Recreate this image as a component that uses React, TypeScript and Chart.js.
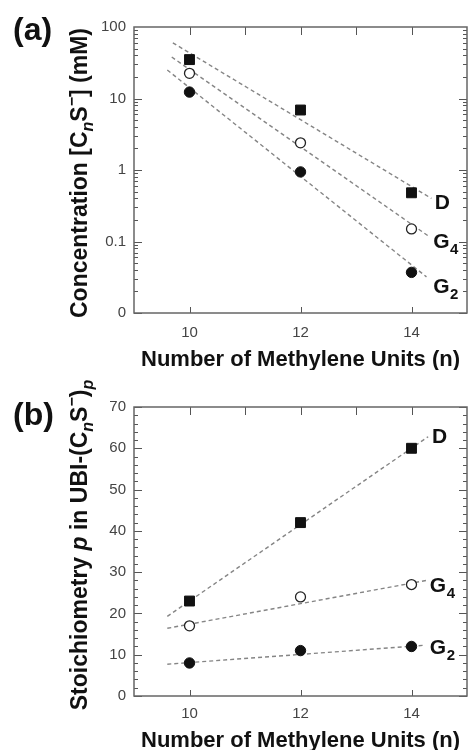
import React, { useEffect, useRef } from 'react';
import { Chart, registerables } from 'chart.js';
Chart.register(...registerables);

const FONT = '"Liberation Sans", Arial, Helvetica, sans-serif';

// ---------- data ----------
const nUnits = [10, 12, 14];
const xTickValues = [10, 12, 14];

// Panel (a): concentration [CnS-] (mM), log scale
const concD = [35, 6.9, 0.48];
const concG4 = [22.5, 2.4, 0.15];
const concG2 = [12.3, 0.94, 0.037];
// dashed fit lines (a): [start, end]
const fitA_D_x = [9.7, 14.36];
const fitA_D_y = [60, 0.4];
const fitA_G4_x = [9.68, 14.3];
const fitA_G4_y = [38, 0.12];
const fitA_G2_x = [9.6, 14.27];
const fitA_G2_y = [25, 0.032];
const logTicksA = [0.01, 0.1, 1, 10, 100];
const logTickLabelsA = ['0', '0.1', '1', '10', '100'];
// series labels (a)
const labelA_text = [['D', ''], ['G', '4'], ['G', '2']];
const labelA_x = [14.42, 14.39, 14.39];
const labelA_y = [0.363, 0.102, 0.024];

// Panel (b): stoichiometry p
const stoD = [23, 42, 60];
const stoG4 = [17, 24, 27];
const stoG2 = [8, 11, 12];
const fitB_D_x = [9.6, 14.3];
const fitB_D_y = [19.3, 62.8];
const fitB_G4_x = [9.6, 14.27];
const fitB_G4_y = [16.4, 28];
const fitB_G2_x = [9.6, 14.25];
const fitB_G2_y = [7.7, 12.3];
const linTicksB = [0, 10, 20, 30, 40, 50, 60, 70];
const labelB_text = [['D', ''], ['G', '4'], ['G', '2']];
const labelB_x = [14.37, 14.33, 14.33];
const labelB_y = [63, 27, 11.9];

type Seg = { t: string; it?: boolean; sub?: boolean; sup?: boolean };
const titleA: Seg[] = [
  { t: 'Concentration [C' }, { t: 'n', it: true, sub: true }, { t: 'S' }, { t: '\u2212', sup: true }, { t: '] (mM)' },
];
const titleB: Seg[] = [
  { t: 'Stoichiometry ' }, { t: 'p', it: true }, { t: ' in UBI-(C' }, { t: 'n', it: true, sub: true },
  { t: 'S' }, { t: '\u2212', sup: true }, { t: ')' }, { t: 'p', it: true, sub: true },
];
const xTitle = 'Number of Methylene Units (n)';

function drawRich(ctx: CanvasRenderingContext2D, segs: Seg[], x: number, y: number, size: number, rotate: boolean) {
  ctx.save();
  ctx.translate(x, y);
  if (rotate) ctx.rotate(-Math.PI / 2);
  const fontFor = (s: Seg) => `${s.it ? 'italic ' : ''}bold ${s.sub || s.sup ? Math.round(size * 0.68) : size}px ${FONT}`;
  let total = 0;
  const widths = segs.map((s) => {
    ctx.font = fontFor(s);
    const w = ctx.measureText(s.t).width;
    total += w;
    return w;
  });
  let cx = -total / 2;
  ctx.textAlign = 'left';
  ctx.textBaseline = 'alphabetic';
  ctx.fillStyle = '#111';
  segs.forEach((s, i) => {
    ctx.font = fontFor(s);
    const dy = s.sub ? size * 0.28 : s.sup ? -size * 0.42 : 0;
    ctx.fillText(s.t, cx, dy);
    cx += widths[i];
  });
  ctx.restore();
}

type PanelCfg = {
  letter: string;
  letterBaseline: number;
  title: Seg[];
  titleCenterY: number;
  xTitleBaseline: number;
  yTickVals: number[];
  isMajor: (v: number) => boolean;
  labels: string[][];
  labelX: number[];
  labelY: number[];
};

function makeOverlay(cfg: PanelCfg) {
  return {
    id: 'overlay',
    afterDraw(chart: any) {
      const { ctx, chartArea: a, scales } = chart;
      const xs = scales.x;
      const ys = scales.y;
      ctx.save();
      // inward ticks
      ctx.strokeStyle = '#555';
      ctx.lineWidth = 1;
      ctx.beginPath();
      cfg.yTickVals.forEach((v) => {
        const len = cfg.isMajor(v) ? 8 : 4;
        const py = Math.round(ys.getPixelForValue(v)) + 0.5;
        ctx.moveTo(a.left, py);
        ctx.lineTo(a.left + len, py);
        ctx.moveTo(a.right, py);
        ctx.lineTo(a.right - len, py);
      });
      for (let v = 10; v <= 14; v++) {
        const px = Math.round(xs.getPixelForValue(v)) + 0.5;
        ctx.moveTo(px, a.top);
        ctx.lineTo(px, a.top + 8);
      }
      xTickValues.forEach((v) => {
        const px = Math.round(xs.getPixelForValue(v)) + 0.5;
        ctx.moveTo(px, a.bottom);
        ctx.lineTo(px, a.bottom - 6);
      });
      ctx.stroke();
      // frame
      ctx.strokeStyle = '#666';
      ctx.lineWidth = 1.5;
      ctx.strokeRect(a.left, a.top, a.right - a.left, a.bottom - a.top);

      // panel letter
      ctx.fillStyle = '#111';
      ctx.font = `bold 32px ${FONT}`;
      ctx.textAlign = 'left';
      ctx.textBaseline = 'alphabetic';
      ctx.fillText(cfg.letter, 13, cfg.letterBaseline);

      // y title
      drawRich(ctx, cfg.title, 87, cfg.titleCenterY, 23, true);
      // x title
      ctx.font = `bold 22px ${FONT}`;
      ctx.textAlign = 'center';
      ctx.fillStyle = '#111';
      ctx.fillText(xTitle, (a.left + a.right) / 2, cfg.xTitleBaseline);

      // series labels
      cfg.labels.forEach((lab, i) => {
        const px = xs.getPixelForValue(cfg.labelX[i]);
        const py = ys.getPixelForValue(cfg.labelY[i]) + 7.5;
        ctx.textAlign = 'left';
        ctx.font = `bold 21px ${FONT}`;
        ctx.fillText(lab[0], px, py);
        const w = ctx.measureText(lab[0]).width;
        if (lab[1]) {
          ctx.font = `bold 15px ${FONT}`;
          ctx.fillText(lab[1], px + w + 0.5, py + 6);
        }
      });
      ctx.restore();
    },
  };
}

const tickFont = { family: FONT, size: 15 };

function pointSets(ys: number[][]) {
  const styles = [
    { pointStyle: 'rect', pointRadius: 7, backgroundColor: '#111', borderColor: '#111', borderWidth: 1 },
    { pointStyle: 'circle', pointRadius: 5, backgroundColor: '#fff', borderColor: '#222', borderWidth: 1.3 },
    { pointStyle: 'circle', pointRadius: 5.2, backgroundColor: '#111', borderColor: '#111', borderWidth: 1 },
  ];
  return ys.map((vals, k) => ({
    data: nUnits.map((x, i) => ({ x, y: vals[i] })),
    showLine: false,
    order: 0,
    ...styles[k],
  }));
}

function lineSets(lines: number[][][]) {
  return lines.map(([lx, ly]) => ({
    data: lx.map((x, i) => ({ x, y: ly[i] })),
    showLine: true,
    borderColor: '#858585',
    borderWidth: 1.4,
    borderDash: [4, 3],
    pointRadius: 0,
    order: 1,
  }));
}

function xScale(pad: number, height: number) {
  return {
    type: 'linear',
    min: 9,
    max: 15,
    grid: { display: false, drawTicks: false },
    border: { display: false },
    afterBuildTicks: (s: any) => {
      s.ticks = xTickValues.map((v) => ({ value: v }));
    },
    ticks: { font: tickFont, color: '#444', padding: pad, maxRotation: 0, autoSkip: false },
    afterFit: (s: any) => {
      s.height = height;
    },
  };
}

function makeCfgA(): any {
  const yMinor: number[] = [];
  for (let d = 0; d < logTicksA.length - 1; d++) {
    for (let k = 1; k <= 9; k++) yMinor.push(k * logTicksA[d]);
  }
  return {
    type: 'scatter',
    data: {
      datasets: [
        ...pointSets([concD, concG4, concG2]),
        ...lineSets([
          [fitA_D_x, fitA_D_y],
          [fitA_G4_x, fitA_G4_y],
          [fitA_G2_x, fitA_G2_y],
        ]),
      ],
    },
    options: {
      responsive: false,
      animation: false,
      plugins: { legend: { display: false }, tooltip: { enabled: false } },
      layout: { autoPadding: false, padding: { top: 27, right: 2, left: 0, bottom: 0 } },
      scales: {
        x: xScale(11, 57),
        y: {
          type: 'logarithmic',
          min: 0.01,
          max: 100,
          grid: { display: false, drawTicks: false },
          border: { display: false },
          afterBuildTicks: (s: any) => {
            s.ticks = logTicksA.map((v) => ({ value: v }));
          },
          ticks: {
            font: tickFont,
            color: '#444',
            padding: 8,
            callback: (v: number) => {
              const i = logTicksA.findIndex((t) => Math.abs(t - v) / t < 1e-6);
              return i >= 0 ? logTickLabelsA[i] : '';
            },
          },
          afterFit: (s: any) => {
            s.width = 134;
          },
        },
      },
    },
    plugins: [
      makeOverlay({
        letter: '(a)',
        letterBaseline: 40,
        title: titleA,
        titleCenterY: 173,
        xTitleBaseline: 366,
        yTickVals: yMinor,
        isMajor: (v) => Math.abs(Math.log10(v) - Math.round(Math.log10(v))) < 1e-6,
        labels: labelA_text,
        labelX: labelA_x,
        labelY: labelA_y,
      }),
    ],
  };
}

function makeCfgB(): any {
  const yMinor: number[] = [];
  for (let v = 0; v <= 70; v += 2) yMinor.push(v);
  return {
    type: 'scatter',
    data: {
      datasets: [
        ...pointSets([stoD, stoG4, stoG2]),
        ...lineSets([
          [fitB_D_x, fitB_D_y],
          [fitB_G4_x, fitB_G4_y],
          [fitB_G2_x, fitB_G2_y],
        ]),
      ],
    },
    options: {
      responsive: false,
      animation: false,
      plugins: { legend: { display: false }, tooltip: { enabled: false } },
      layout: { autoPadding: false, padding: { top: 37, right: 2, left: 0, bottom: 0 } },
      scales: {
        x: xScale(9, 54),
        y: {
          type: 'linear',
          min: 0,
          max: 70,
          grid: { display: false, drawTicks: false },
          border: { display: false },
          afterBuildTicks: (s: any) => {
            s.ticks = linTicksB.map((v) => ({ value: v }));
          },
          ticks: { font: tickFont, color: '#444', padding: 8 },
          afterFit: (s: any) => {
            s.width = 134;
          },
        },
      },
    },
    plugins: [
      makeOverlay({
        letter: '(b)',
        letterBaseline: 55,
        title: titleB,
        titleCenterY: 175,
        xTitleBaseline: 377,
        yTickVals: yMinor,
        isMajor: (v) => v % 10 === 0,
        labels: labelB_text,
        labelX: labelB_x,
        labelY: labelB_y,
      }),
    ],
  };
}

export default function App() {
  const refA = useRef<HTMLCanvasElement>(null);
  const refB = useRef<HTMLCanvasElement>(null);
  useEffect(() => {
    const a = new Chart(refA.current as HTMLCanvasElement, makeCfgA());
    const b = new Chart(refB.current as HTMLCanvasElement, makeCfgB());
    return () => {
      a.destroy();
      b.destroy();
    };
  }, []);
  return (
    <div style={{ position: 'absolute', left: 0, top: 0, width: 469, height: 750, background: '#fff' }}>
      <canvas ref={refA} width={469} height={370} style={{ display: 'block', width: 469, height: 370 }} />
      <canvas ref={refB} width={469} height={380} style={{ display: 'block', width: 469, height: 380 }} />
    </div>
  );
}
